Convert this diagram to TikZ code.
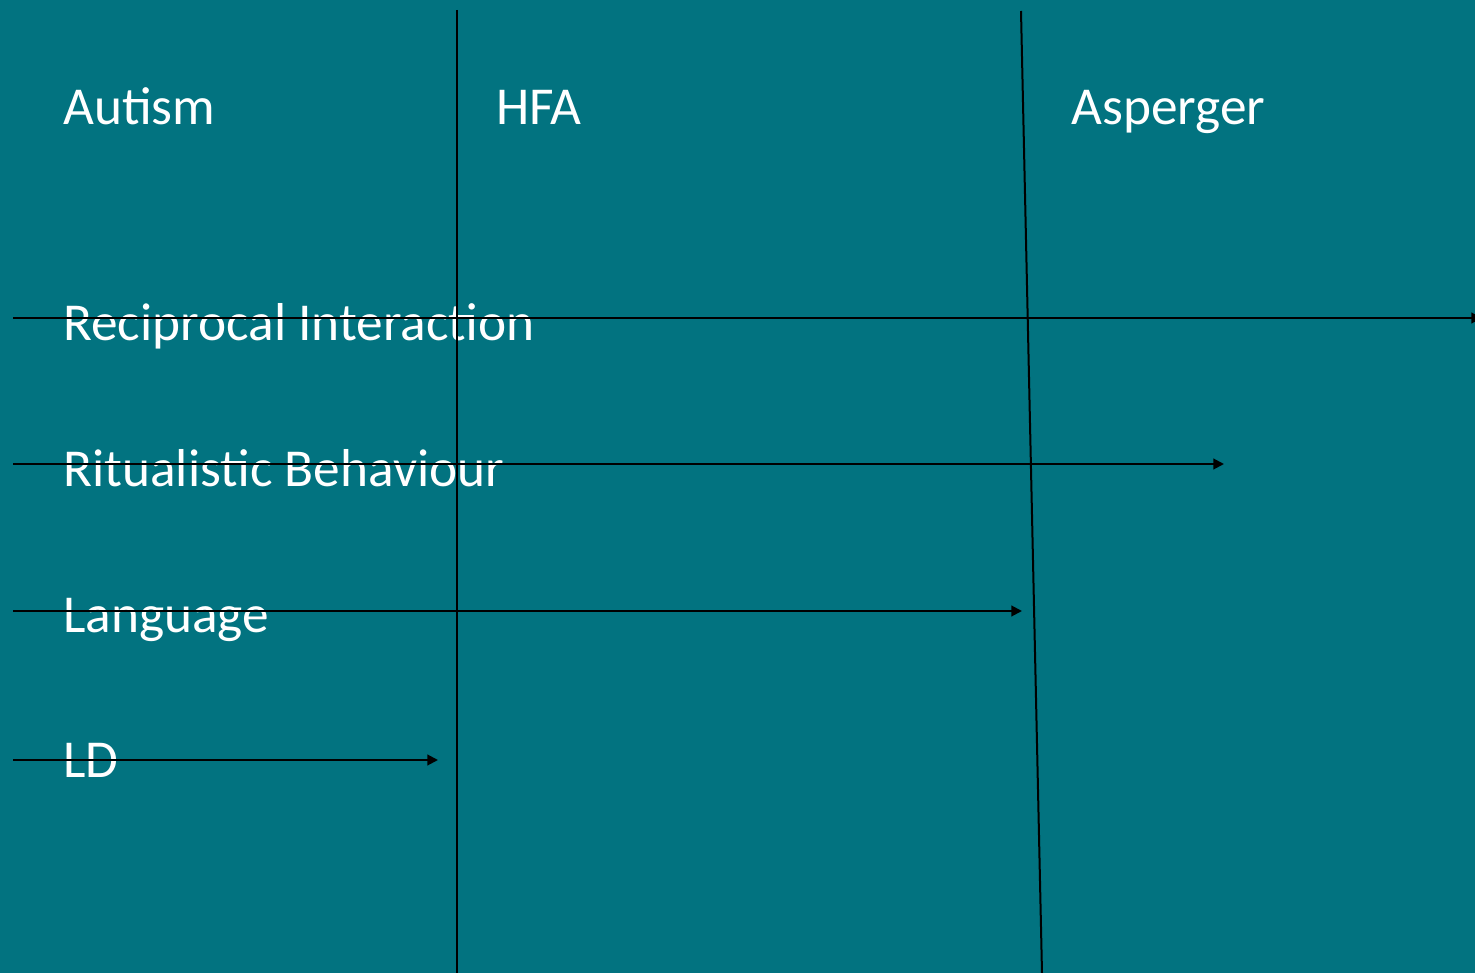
\documentclass[tikz,border=0pt]{standalone}
\usepackage{fontspec}
\setmainfont{Carlito}
\usetikzlibrary{arrows.meta}
\definecolor{teal}{RGB}{2,115,128}
\tikzset{
  label/.style={anchor=base west,inner sep=0pt,text=white,font=\fontsize{40}{48}\selectfont},
  axis/.style={line width=1.5pt,-{Triangle[length=8pt,width=8pt]}},
  divider/.style={line width=1.5pt}
}
\begin{document}
\begin{tikzpicture}[x=0.75pt,y=-0.75pt]
  % Background
  \fill[teal] (0,0) rectangle (1475,973);
  \useasboundingbox (0,0) rectangle (1475,973);
  % Coordinates
  \coordinate (T1) at (457,10);
  \coordinate (B1) at (457,973);
  \coordinate (T2) at (1021,11);
  \coordinate (B2) at (1042,973);
  \coordinate (S1) at (13,318);
  \coordinate (E1) at (1482,318);
  \coordinate (S2) at (13,464);
  \coordinate (E2) at (1224,464);
  \coordinate (S3) at (13,611);
  \coordinate (E3) at (1022,611);
  \coordinate (S4) at (13,760);
  \coordinate (E4) at (438,760);
  % Headings
  \node[label] (autism) at (63,125) {Autism};
  \node[label] (hfa) at (496,125) {HFA};
  \node[label] (asp) at (1071,125) {Asperger};
  % Traits
  \node[label] (recip) at (63,341) {Reciprocal Interaction};
  \node[label] (ritual) at (63,487) {Ritualistic Behaviour};
  \node[label] (lang) at (63,632) {Language};
  \node[label] (ld) at (63,777) {LD};
  % Dividers
  \draw[divider] (T1)--(B1);
  \draw[divider] (T2)--(B2);
  % Arrows
  \draw[axis] (S1)--(E1);
  \draw[axis] (S2)--(E2);
  \draw[axis] (S3)--(E3);
  \draw[axis] (S4)--(E4);
\end{tikzpicture}
\end{document}
